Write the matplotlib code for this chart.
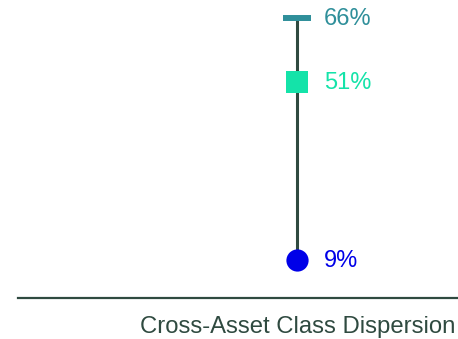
import matplotlib
matplotlib.use("Agg")
import matplotlib.pyplot as plt
from matplotlib.transforms import offset_copy

plt.rcParams['font.family'] = ['Liberation Sans', 'DejaVu Sans']

category = "Cross-Asset Class Dispersion"
labels = ["66%", "51%", "9%"]
values = [66, 51, 9]
markers = ["_", "s", "o"]
colors = ["#2f8f9a", "#14e3a9", "#0000e8"]

fig = plt.figure(figsize=(4.58, 3.39), dpi=100)
ax = fig.add_axes([18/458, 1 - 298/339, 1 - 18/458, 298/339])
ax.set_xlim(-0.634, 0.366)
ax.set_ylim(0, 70.2)

ax.plot([0, 0], [min(values), max(values)], color="#2f4a40", lw=2.2, zorder=1)
sizes = {"_": 19.5, "s": 16, "o": 16}
for v, m, c, lab in zip(values, markers, colors, labels):
    if m == "_":
        ax.plot(0, v, marker=m, color=c, markersize=sizes[m], markeredgewidth=4.3, zorder=3)
    else:
        ax.plot(0, v, marker=m, color=c, markersize=sizes[m], markeredgewidth=0, zorder=3)
    tr = offset_copy(ax.transData, fig=fig, x=27*0.72, y=-1.2, units='points')
    ax.text(0, v, lab, transform=tr, color=c, fontsize=17, ha='left', va='center')

for s in ["left", "right", "top"]:
    ax.spines[s].set_visible(False)
ax.spines["bottom"].set_color("#2f4a40")
ax.spines["bottom"].set_linewidth(1.6)
ax.set_xticks([])
ax.set_yticks([])
ax.patch.set_visible(False)

fig.text(0.994, 1 - 327/339, category, ha='right', va='center', fontsize=17.2, color="#2f4a40")

fig.savefig("out.png", dpi=100)
